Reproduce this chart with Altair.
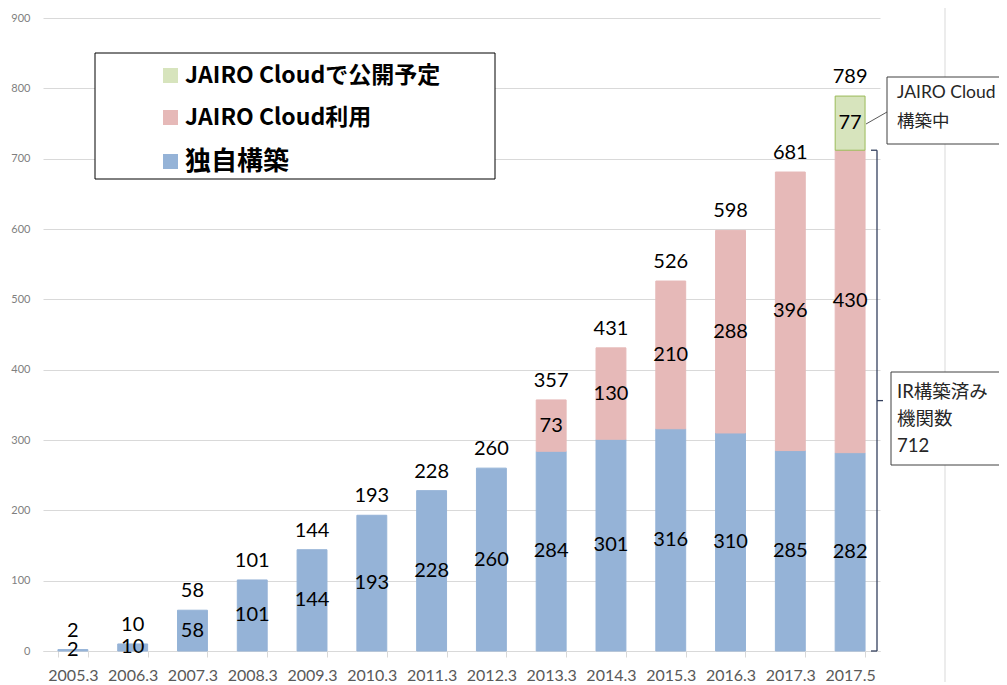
import altair as alt
import pandas as pd

# ---------------- data ----------------
categories = ["2005.3", "2006.3", "2007.3", "2008.3", "2009.3", "2010.3", "2011.3",
              "2012.3", "2013.3", "2014.3", "2015.3", "2016.3", "2017.3", "2017.5"]
own_built = [2, 10, 58, 101, 144, 193, 228, 260, 284, 301, 316, 310, 285, 282]
cloud_used = [0, 0, 0, 0, 0, 0, 0, 0, 73, 130, 210, 288, 396, 430]
cloud_planned = [0, 0, 0, 0, 0, 0, 0, 0, 0, 0, 0, 0, 0, 77]
totals = [2, 10, 58, 101, 144, 193, 228, 260, 357, 431, 526, 598, 681, 789]
series_names = ["JAIRO Cloudで公開予定", "JAIRO Cloud利用", "独自構築"]
series_colors = ["#D7E4BD", "#E6B9B8", "#95B3D7"]
series_strokes = ["#9BBB59", "#E6B9B8", "#95B3D7"]
y_ticks = [0, 100, 200, 300, 400, 500, 600, 700, 800, 900]
bracket_top = 712
bracket_mid = 356
note_cloud = ["JAIRO Cloud", "構築中"]
note_ir = ["IR構築済み", "機関数", "712"]

# ---------------- build tables ----------------
rows = []
for i, c in enumerate(categories):
    base = 0
    for name, vals in ((series_names[2], own_built), (series_names[1], cloud_used),
                       (series_names[0], cloud_planned)):
        v = vals[i]
        if v > 0:
            rows.append({"cat": c, "series": name, "start": base, "end": base + v,
                         "mid": base + v / 2, "label": str(v)})
            base += v
seg = pd.DataFrame(rows)
tot = pd.DataFrame({"cat": categories, "total": totals})

FONT = "Lato, Noto Sans CJK JP"
JFONT = "Noto Sans CJK JP"

xenc = alt.X("cat:N", sort=categories, title=None,
             scale=alt.Scale(paddingInner=0.5, paddingOuter=0.25),
             axis=alt.Axis(labelAngle=0, labelFontSize=16, labelColor="#595959",
                           labelFont=FONT, domainColor="#D9D9D9", tickColor="#D9D9D9",
                           tickSize=6, tickBand="extent", labelPadding=10))
yscale = alt.Scale(domain=[0, 900], nice=False)

bars = alt.Chart(seg).mark_bar(strokeWidth=1).encode(
    x=xenc,
    y=alt.Y("start:Q", scale=yscale, title=None,
            axis=alt.Axis(values=y_ticks, labelFontSize=11, labelColor="#7F7F7F",
                          labelFont=FONT, gridColor="#D9D9D9", domain=False,
                          ticks=False, labelPadding=13)),
    y2="end:Q",
    color=alt.Color("series:N",
                    scale=alt.Scale(domain=series_names, range=series_colors),
                    legend=alt.Legend(title=None, orient="none", legendX=68, legendY=36,
                                      symbolType="square", symbolSize=225,
                                      symbolStrokeWidth=0,
                                      labelFontSize=alt.ExprRef(
                                          "datum.label == '独自構築' ? 26 : 23"),
                                      labelFontWeight="bold",
                                      labelFont=JFONT, labelColor="#000000",
                                      labelLimit=400, labelOffset=3,
                                      rowPadding=18, padding=10,
                                      symbolOffset=38)),
    stroke=alt.Stroke("series:N",
                      scale=alt.Scale(domain=series_names, range=series_strokes),
                      legend=None),
)

seg_labels = alt.Chart(seg).mark_text(fontSize=20, font=FONT, color="#000000",
                                      baseline="middle").encode(
    x=alt.X("cat:N", sort=categories),
    y=alt.Y("mid:Q", scale=yscale),
    text="label:N",
)

tot_labels = alt.Chart(tot).mark_text(fontSize=20, font=FONT, color="#000000",
                                      baseline="middle", dy=-19).encode(
    x=alt.X("cat:N", sort=categories),
    y=alt.Y("total:Q", scale=yscale),
    text="total:Q",
)

one = pd.DataFrame({"k": [0]})

vline = alt.Chart(one).mark_rule(color="#D9D9D9", strokeWidth=1).encode(
    x=alt.value(902), y=alt.value(-18), y2=alt.value(680))

legend_box = alt.Chart(one).mark_rect(fill="white", stroke="#000000", strokeWidth=1).encode(
    x=alt.value(52), x2=alt.value(452), y=alt.value(35), y2=alt.value(161))

# bracket for "IR構築済み機関数"
br_color = "#34405E"
br_v = alt.Chart(one).mark_rule(color=br_color, strokeWidth=1.3).encode(
    x=alt.value(834), y=alt.Y(datum=bracket_top, scale=yscale), y2=alt.Y2(datum=0))
br_t = alt.Chart(one).mark_rule(color=br_color, strokeWidth=1.3).encode(
    x=alt.value(828), x2=alt.value(834), y=alt.Y(datum=bracket_top, scale=yscale))
br_b = alt.Chart(one).mark_rule(color=br_color, strokeWidth=1.3).encode(
    x=alt.value(828), x2=alt.value(834), y=alt.Y(datum=0, scale=yscale))
br_m = alt.Chart(one).mark_rule(color=br_color, strokeWidth=1.3).encode(
    x=alt.value(834), x2=alt.value(840), y=alt.Y(datum=bracket_mid, scale=yscale))

# callout 1
conn = alt.Chart(one).mark_rule(color="#595959", strokeWidth=1).encode(
    x=alt.value(823), x2=alt.value(844), y=alt.value(106), y2=alt.value(94))
box1 = alt.Chart(one).mark_rect(fill="white", stroke="#404040", strokeWidth=1).encode(
    x=alt.value(844), x2=alt.value(1000), y=alt.value(59), y2=alt.value(126))
box1_text = alt.Chart(one).mark_text(
    align="left", baseline="top", fontSize=17.5, font=FONT, color="#262626",
    lineHeight=29).encode(
    x=alt.value(854), y=alt.value(66), text=alt.value(note_cloud))

# callout 2
box2 = alt.Chart(one).mark_rect(fill="white", stroke="#404040", strokeWidth=1).encode(
    x=alt.value(848), x2=alt.value(1000), y=alt.value(354), y2=alt.value(447))
box2_text = alt.Chart(one).mark_text(
    align="left", baseline="top", fontSize=18.5, font=FONT, color="#262626",
    lineHeight=27).encode(
    x=alt.value(854), y=alt.value(365), text=alt.value(note_ir))

chart = alt.layer(
    vline, legend_box, bars, seg_labels, tot_labels,
    br_v, br_t, br_b, br_m, conn, box1, box1_text, box2, box2_text
).properties(
    width=837, height=633,
    padding={"left": 35, "top": 10, "right": 119, "bottom": 31},
    autosize=alt.AutoSizeParams(type="none"),
    background="white",
).configure_view(strokeWidth=0)

chart.save("out.html", embed_options={"renderer": "svg", "actions": False})
